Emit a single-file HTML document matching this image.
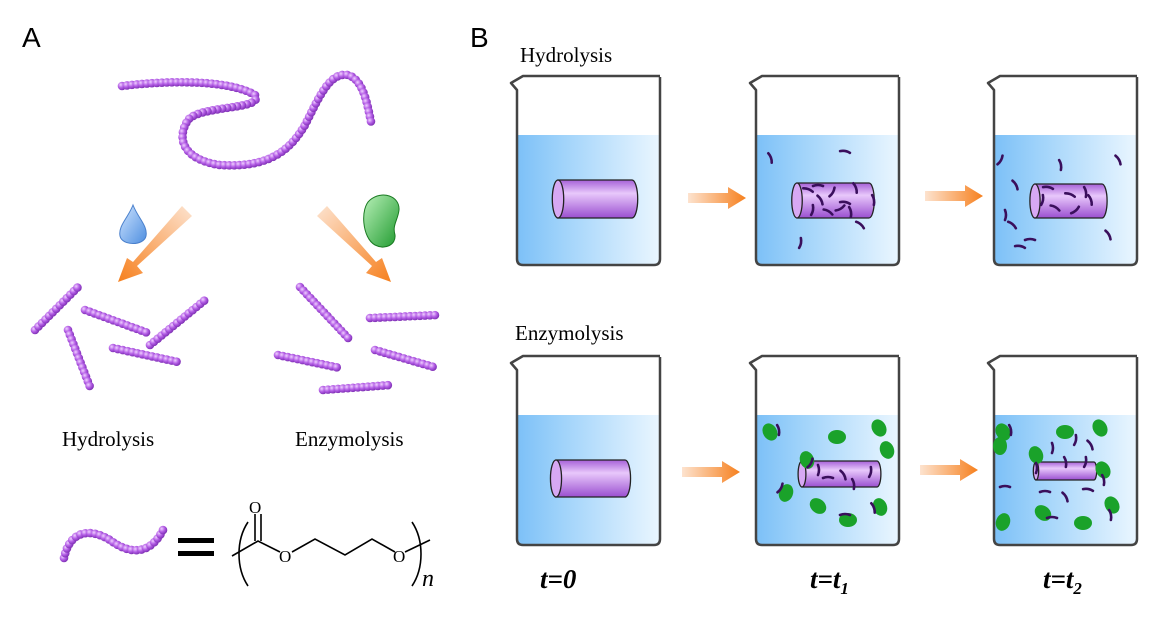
<!DOCTYPE html>
<html><head><meta charset="utf-8"><style>
body{margin:0;background:#fff;}
svg{display:block;}
text{font-family:"Liberation Serif",serif;}
</style></head><body>
<svg id="s" width="1161" height="620" viewBox="0 0 1161 620" xmlns="http://www.w3.org/2000/svg">
<defs>
<linearGradient id="water" x1="0" x2="1"><stop offset="0" stop-color="#7cc0f7"/><stop offset="0.3" stop-color="#9ed2fa"/><stop offset="1" stop-color="#eaf6ff"/></linearGradient>
<linearGradient id="cyl" x1="0" y1="0" x2="0" y2="1"><stop offset="0" stop-color="#a660d8"/><stop offset="0.35" stop-color="#e8c8fb"/><stop offset="1" stop-color="#9a4fd0"/></linearGradient>
<linearGradient id="arr" x1="0" x2="1"><stop offset="0" stop-color="#fde3cf"/><stop offset="1" stop-color="#f6801e"/></linearGradient>
<linearGradient id="arrd1" x1="1" y1="0" x2="0" y2="1"><stop offset="0" stop-color="#fde3cf"/><stop offset="1" stop-color="#f6801e"/></linearGradient>
<linearGradient id="arrd2" x1="0" y1="0" x2="1" y2="1"><stop offset="0" stop-color="#fde3cf"/><stop offset="1" stop-color="#f6801e"/></linearGradient>
<radialGradient id="bead" cx="0.35" cy="0.35" r="0.7"><stop offset="0" stop-color="#f0d0ff"/><stop offset="0.5" stop-color="#b45ee6"/><stop offset="1" stop-color="#7a2cb0"/></radialGradient>
<linearGradient id="drop" x1="0" y1="0" x2="1" y2="1"><stop offset="0" stop-color="#cfe4ff"/><stop offset="1" stop-color="#4f8fe0"/></linearGradient>
<linearGradient id="bean" x1="0" y1="0" x2="1" y2="1"><stop offset="0" stop-color="#b8f0b8"/><stop offset="1" stop-color="#1f9a2e"/></linearGradient>
</defs>

<text x="22" y="47" style="font-family:'Liberation Sans',sans-serif" font-size="28">A</text>
<text x="470" y="47" style="font-family:'Liberation Sans',sans-serif" font-size="28">B</text>
<text x="520" y="62" font-size="21">Hydrolysis</text>
<text x="515" y="340" font-size="21">Enzymolysis</text>
<text x="62" y="446" font-size="21">Hydrolysis</text>
<text x="295" y="446" font-size="21">Enzymolysis</text>
<text x="540" y="588" font-size="27" font-weight="bold" font-style="italic">t=0</text>
<text x="810" y="588" font-size="27" font-weight="bold" font-style="italic">t=t<tspan font-size="17" dy="6">1</tspan></text>
<text x="1043" y="588" font-size="27" font-weight="bold" font-style="italic">t=t<tspan font-size="17" dy="6">2</tspan></text>

<g id="chains" fill="url(#bead)">
<path class="ch" d="M122,86 C170,80 230,80 255,95 C265,110 200,105 188,120 C175,140 185,160 220,165 C270,168 290,150 305,125 C320,95 330,72 348,75 C365,80 368,110 372,126" fill="none"/>
<path class="ch" d="M35,330 L80,285" fill="none"/>
<path class="ch" d="M85,310 L148,333" fill="none"/>
<path class="ch" d="M68,330 L90,387" fill="none"/>
<path class="ch" d="M113,348 L178,362" fill="none"/>
<path class="ch" d="M150,345 L205,300" fill="none"/>
<path class="ch" d="M300,287 L350,340" fill="none"/>
<path class="ch" d="M370,318 L438,315" fill="none"/>
<path class="ch" d="M278,355 L340,368" fill="none"/>
<path class="ch" d="M375,350 L437,368" fill="none"/>
<path class="ch" d="M323,390 L390,385" fill="none"/>
<path class="ch" d="M64,558 C70,530 90,528 110,540 C130,555 150,555 163,530" fill="none"/>
</g>

<path d="M182,206 L192,216 L137,266 L143,273 L118,282 L127,258 L133,262 Z" fill="url(#arrd1)"/>
<path d="M327,206 L317,216 L372,266 L366,273 L391,282 L382,258 L376,262 Z" fill="url(#arrd2)"/>
<path d="M133,205 C128,218 118,226 120,236 C122,246 144,246 146,236 C148,226 138,218 133,205 Z" fill="url(#drop)" stroke="#4a80cc" stroke-width="1"/>
<path d="M370,200 C382,190 400,196 399,210 C398,220 392,225 395,235 C396,245 385,250 375,245 C362,238 360,208 370,200 Z" fill="url(#bean)" stroke="#1a7a22" stroke-width="1"/>

<rect x="178" y="538" width="36" height="5" fill="#000"/>
<rect x="178" y="551" width="36" height="5" fill="#000"/>
<g stroke="#000" stroke-width="1.6" fill="none">
<path d="M248,522 C236,540 236,568 248,586"/>
<path d="M412,522 C424,540 424,568 412,586"/>
<path d="M232,556 L258,541 L280,552"/>
<path d="M255,541 L255,514 M261,541 L261,514"/>
<path d="M292,552 L315,539 L345,555 L372,539 L395,552"/>
<path d="M405,552 L430,540"/>
</g>
<text x="249" y="513" font-size="17">O</text>
<text x="279" y="562" font-size="17">O</text>
<text x="393" y="562" font-size="17">O</text>
<text x="422" y="586" font-size="24" font-style="italic">n</text>

<g id="beakers"></g>
</svg>
<script>
var NS="http://www.w3.org/2000/svg",s=document.getElementById('s');
function el(t,a,p){var e=document.createElementNS(NS,t);for(var k in a)e.setAttribute(k,a[k]);(p||s).appendChild(e);return e;}
var chs=document.querySelectorAll('.ch'),g=document.getElementById('chains');
chs.forEach(function(p){var L=p.getTotalLength();for(var d=0;d<=L;d+=5){var pt=p.getPointAtLength(d);el('circle',{cx:pt.x,cy:pt.y,r:4.3,fill:'url(#bead)'},g);}});
var B=document.getElementById('beakers');
function beaker(x,y){
 var w=151,h=190;
 el('path',{d:'M'+(x+4)+','+(y+60)+' H'+(x+w-4)+' V'+(y+h-6)+' Q'+(x+w-4)+','+(y+h)+' '+(x+w-10)+','+(y+h)+' H'+(x+10)+' Q'+(x+4)+','+(y+h)+' '+(x+4)+','+(y+h-6)+' Z',fill:'url(#water)'},B);
 el('path',{d:'M'+(x+w-4)+','+(y+2)+' V'+(y+h-6)+' Q'+(x+w-4)+','+(y+h)+' '+(x+w-10)+','+(y+h)+' H'+(x+10)+' Q'+(x+4)+','+(y+h)+' '+(x+4)+','+(y+h-6)+' V'+(y+15)+' L'+(x-2)+','+(y+8)+' L'+(x+10)+','+(y+1)+' H'+(x+w-4),fill:'none',stroke:'#444',"stroke-width":2.5,"stroke-linejoin":"round"},B);
}
function cyl(x1,y1,x2,y2){var ry=(y2-y1)/2,rx=ry*0.3;
 el('path',{d:'M'+x1+','+y1+' H'+x2+' A'+rx+','+ry+' 0 0 1 '+x2+','+y2+' H'+x1+' Z',fill:'url(#cyl)',stroke:'#222',"stroke-width":1.3},B);
 el('ellipse',{cx:x1,cy:(y1+y2)/2,rx:rx,ry:ry,fill:'#d7a8f3',stroke:'#222',"stroke-width":1.3},B);}
function frag(x,y,a){var r=a*Math.PI/180,dx=5*Math.cos(r),dy=5*Math.sin(r);
 el('path',{d:'M'+(x-dx)+','+(y-dy)+' Q'+(x+dy*0.4)+','+(y-dx*0.4)+' '+(x+dx)+','+(y+dy),stroke:'#3a0f5c',"stroke-width":2.6,fill:'none',"stroke-linecap":"round"},B);}
function bean(x,y,a){el('ellipse',{cx:x,cy:y,rx:9,ry:7,transform:'rotate('+a+' '+x+' '+y+')',fill:'#1aa22a'},B);}
function arrow(x,y){el('path',{d:'M'+x+','+(y-5)+' H'+(x+40)+' V'+(y-11)+' L'+(x+58)+','+y+' L'+(x+40)+','+(y+11)+' V'+(y+5)+' H'+x+' Z',fill:'url(#arr)'},B);}
beaker(513,75);beaker(752,75);beaker(990,75);
beaker(513,355);beaker(752,355);beaker(990,355);
arrow(688,198);arrow(925,196);arrow(682,472);arrow(920,470);
cyl(558,180,632,218);cyl(797,183,869,218);cyl(1035,184,1102,218);
cyl(556,460,625,497);cyl(802,461,877,487);cyl(1036,462,1094,480);
[[770,158,70],[845,152,10],[800,243,100],[860,225,40],[873,200,80],[808,190,20],[820,200,60],[832,192,120],[845,203,10],[855,188,70],[812,210,100],[828,212,30],[840,208,150],[850,212,80],[818,186,0]].forEach(function(f){frag(f[0],f[1],f[2])});
[[1000,160,120],[1060,165,80],[1118,160,60],[1015,185,60],[1005,215,90],[1108,235,60],[1020,247,10],[1030,240,0],[1090,200,70],[1070,195,20],[1042,200,100],[1055,208,30],[1075,210,140],[1085,192,80],[1048,188,10],[1012,225,40]].forEach(function(f){frag(f[0],f[1],f[2])});
[[770,432,60],[837,437,0],[879,428,60],[887,450,70],[807,460,70],[786,493,110],[818,506,40],[848,520,0],[880,507,70]].forEach(function(b){bean(b[0],b[1],b[2])});
[[778,430,80],[818,470,90],[828,478,0],[853,484,80],[843,475,60],[870,472,100],[780,488,120],[873,508,70],[845,515,0],[810,463,120]].forEach(function(f){frag(f[0],f[1],f[2])});
[[1003,432,60],[1065,432,0],[1100,428,60],[1112,505,60],[1003,522,110],[1043,513,40],[1083,523,0],[1103,470,60],[1000,446,90],[1036,455,70]].forEach(function(b){bean(b[0],b[1],b[2])});
[[1010,430,80],[1075,440,100],[1090,445,60],[1052,448,90],[1065,462,80],[1085,462,100],[1045,492,0],[1065,497,60],[1088,490,10],[1005,487,0],[1103,480,80],[1052,518,0],[1110,515,80],[1036,468,90]].forEach(function(f){frag(f[0],f[1],f[2])});
</script>
</body></html>
